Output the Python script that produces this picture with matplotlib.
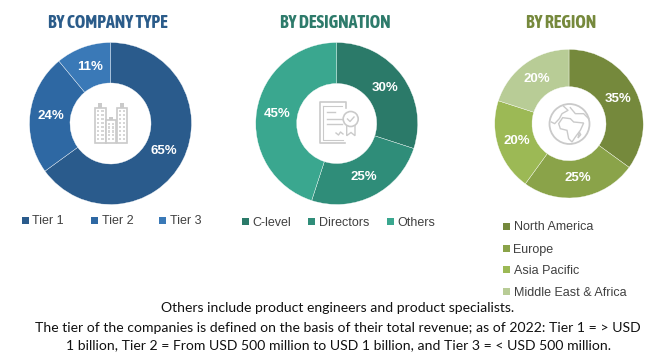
import matplotlib
matplotlib.use('Agg')
import matplotlib.pyplot as plt
from matplotlib.patches import Rectangle, Circle, Polygon

# Data
type_labels = ['Tier 1', 'Tier 2', 'Tier 3']
type_values = [65, 24, 11]
type_colors = ['#2A5B8C', '#2E68A3', '#3A79B7']

desig_labels = ['C-level', 'Directors', 'Others']
desig_values = [30, 25, 45]
desig_colors = ['#2B7A69', '#2F8D79', '#3AA78F']

region_labels = ['North America', 'Europe', 'Asia Pacific', 'Middle East & Africa']
region_values = [35, 25, 20, 20]
region_colors = ['#75893C', '#8AA349', '#9CB955', '#B8CC96']

notes = ['Others include product engineers and product specialists.',
         'The tier of the companies is defined on the basis of their total revenue; as of 2022: Tier 1 = > USD',
         '1 billion, Tier 2 = From USD 500 million to USD 1 billion, and Tier 3 = < USD 500 million.']

W, H = 647, 357
GREY = '#CACACA'


def Y(y):
    return H - y


fig = plt.figure(figsize=(W / 100, H / 100), dpi=100)
ax = fig.add_axes([0, 0, 1, 1])


def donut(values, colors, cx, cy, r, hole, title, tcolor, tx):
    ax.pie(values, colors=colors, center=(cx, Y(cy)), radius=r, startangle=90, counterclock=False,
           wedgeprops=dict(width=r - hole, edgecolor='#FFFFFF', linewidth=0.25),
           autopct='%.0f%%', pctdistance=0.745,
           textprops=dict(color='white', fontweight='bold', fontsize=9.5, family='Liberation Sans'),
           frame=True)
    ax.text(tx, Y(23), title, color=tcolor, fontsize=12.9, fontweight='bold',
            family=['Asap Condensed', 'Liberation Sans'], ha='center', va='center')


donut(type_values, type_colors, 110.5, 123.5, 81, 40.5, 'BY COMPANY TYPE', '#2B5C8A', 108)
donut(desig_values, desig_colors, 336.7, 123.5, 81, 40, 'BY DESIGNATION', '#2E7B6B', 335)
donut(region_values, region_colors, 569, 123.7, 74.3, 37, 'BY REGION', '#76893C', 561)
ax.set_xlim(0, W)
ax.set_ylim(0, H)
ax.set_aspect('auto')
ax.axis('off')


def legend(labels, colors, xs, ys):
    for lab, c, x, y in zip(labels, colors, xs, ys):
        ax.add_patch(Rectangle((x, Y(y) - 3.5), 7, 7, fc=c, ec='none'))
        ax.text(x + 10.5, Y(y), lab, color='#404040', fontsize=9, family='Liberation Sans',
                ha='left', va='center_baseline')


legend(type_labels, type_colors, [22, 91, 159], [220, 220, 220])
legend(desig_labels, desig_colors, [242, 308, 387], [221, 221, 221])
legend(region_labels, region_colors, [503, 503, 503, 503], [226, 248, 269.5, 291])

for txt, y in zip(notes, [308.5, 327.5, 345.5]):
    ax.text(338, Y(y), txt, color='#111111', fontsize=10.05, family='Lato', ha='center', va='center')


# Icons
def building(x0, x1, top, bottom, cap, rows):
    ax.add_patch(Rectangle((x0, Y(bottom)), x1 - x0, bottom - top, fc='white', ec=GREY, lw=1.2))
    ax.add_patch(Rectangle(((x0 + x1) / 2 - 2, Y(top)), 4, top - cap, fc=GREY, ec='none'))
    for r in range(rows):
        for k in range(2):
            wx = x0 + 2 + k * (x1 - x0 - 2.5) / 2
            wy = top + 2.5 + r * (bottom - top - 3) / rows
            ax.add_patch(Rectangle((wx, Y(wy) - 2.2), 2.4, 2.2, fc='#D6D6D6', ec='none'))


building(95, 105.7, 107.7, 142.5, 103, 8)
building(116.7, 127.3, 107.7, 142.5, 103, 8)
building(106, 116.3, 120, 142.5, 117, 5)

# certificate
ax.plot([346, 346, 319.5, 319.5, 345], [Y(108), Y(101.7), Y(101.7), Y(142.7), Y(142.7)], color=GREY, lw=1.2)
ax.plot([323, 323, 343], [Y(106), Y(139.5), Y(139.5)], color=GREY, lw=0.8)
ax.plot([323, 342], [Y(106), Y(106)], color=GREY, lw=0.8)
for x0, x1, y in [(327, 335, 112), (327, 342, 119), (327, 342, 124)]:
    ax.plot([x0, x1], [Y(y), Y(y)], color=GREY, lw=1)
ax.plot([336, 338.5, 340.5, 343], [Y(133), Y(135), Y(132), Y(134)], color=GREY, lw=1)
ax.add_patch(Polygon([(346.7, Y(124)), (346.7, Y(135.7)), (351, Y(132.5)), (355, Y(135.7)), (355, Y(124))],
                     fc='white', ec=GREY, lw=1))
ax.add_patch(Circle((350.7, Y(119)), 7.5, fc='white', ec=GREY, lw=1.2))
ax.plot([347.5, 350, 354], [Y(119), Y(121.5), Y(117)], color=GREY, lw=1)


# globe, outlines given in zoom-crop coordinates
def G(pts):
    return [(542 + x / 3, Y(97 + y / 3)) for x, y in pts]


ax.add_patch(Circle((569.5, Y(124)), 20, fc='none', ec=GREY, lw=1.3))
ax.add_patch(Polygon(G([(50, 80), (62, 62), (85, 65), (95, 75), (125, 78), (115, 100), (100, 120),
                        (90, 135), (80, 125), (75, 100), (55, 95)]), fc='none', ec=GREY, lw=1))
for line in [[(65, 28), (78, 40), (60, 50), (52, 65), (38, 80), (28, 75)],
             [(85, 32), (100, 50), (125, 50), (140, 65)]]:
    xs, ys = zip(*G(line))
    ax.plot(xs, ys, color=GREY, lw=1)
ax.add_patch(Polygon(G([(112, 105), (116, 113), (108, 123)]), fc='none', ec=GREY, lw=1))

fig.savefig('out.png', dpi=100)
